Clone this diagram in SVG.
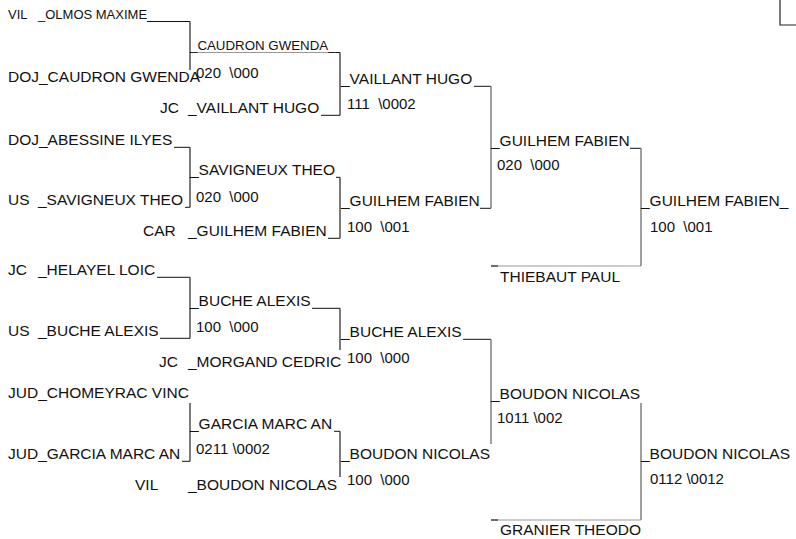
<svg xmlns="http://www.w3.org/2000/svg" width="796" height="539" viewBox="0 0 796 539">
<style>
text{font-family:"Liberation Sans",Arial,Helvetica,sans-serif;fill:#111;}
.n{font-size:15.5px;}
.s{font-size:13px;}
.sc{font-size:15px;white-space:pre;}
.h{stroke:#111;stroke-width:1;fill:none;}
.v1{stroke:#222;stroke-width:1.2;fill:none;}
.v2{stroke:#777;stroke-width:1.4;fill:none;}
.g{stroke:#999;stroke-width:1;fill:none;}
</style>
<rect width="796" height="539" fill="#fff"/>
<g id="connectors">
  <!-- round 1 trailing lines -->
  <line class="h" x1="147" y1="21.5" x2="190" y2="21.5"/>
  <line class="h" x1="174" y1="147.3" x2="190" y2="147.3"/>
  <line class="h" x1="185" y1="207.3" x2="190" y2="207.3"/>
  <line class="h" x1="157" y1="277.3" x2="190" y2="277.3"/>
  <line class="h" x1="160" y1="338.3" x2="190" y2="338.3"/>
  <line class="h" x1="182" y1="461.3" x2="190" y2="461.3"/>
  <!-- byes into round 2 verticals -->
  <line class="h" x1="321" y1="115.3" x2="340" y2="115.3"/>
  <line class="h" x1="328" y1="238.3" x2="340" y2="238.3"/>
  <!-- round 2 trailing -->
  <line class="g" x1="190" y1="52.5" x2="340" y2="52.5"/>
  <line class="h" x1="336" y1="52.5" x2="340" y2="52.5"/>
  <line class="h" x1="336" y1="177.3" x2="340" y2="177.3"/>
  <line class="h" x1="312" y1="308.3" x2="340" y2="308.3"/>
  <line class="h" x1="334" y1="431.3" x2="340" y2="431.3"/>
  <!-- round 3 trailing -->
  <line class="h" x1="474" y1="86.3" x2="491" y2="86.3"/>
  <line class="h" x1="480" y1="208.3" x2="491" y2="208.3"/>
  <line class="h" x1="463" y1="339.3" x2="491" y2="339.3"/>
  <!-- round 4 trailing -->
  <line class="h" x1="630" y1="148.3" x2="641" y2="148.3"/>
  <!-- opponents lines -->
  <line class="g" x1="491" y1="266" x2="641" y2="266"/>
  <line class="h" x1="491" y1="266" x2="498" y2="266"/>
  <line class="g" x1="491" y1="520" x2="641" y2="520"/>
  <line class="h" x1="491" y1="520" x2="498" y2="520"/>
  <!-- verticals -->
  <line class="v1" x1="190" y1="21.5" x2="190" y2="70"/>
  <line class="v1" x1="190" y1="147.3" x2="190" y2="207.3"/>
  <line class="v1" x1="190" y1="277.3" x2="190" y2="338.3"/>
  <line class="v1" x1="190" y1="403" x2="190" y2="461.3"/>
  <line class="v1" x1="340" y1="52.5" x2="340" y2="115.3"/>
  <line class="v1" x1="340" y1="177.3" x2="340" y2="238.3"/>
  <line class="v1" x1="340" y1="308.3" x2="340" y2="350"/>
  <line class="v1" x1="340" y1="431.3" x2="340" y2="477"/>
  <line class="v2" x1="491" y1="86.3" x2="491" y2="208.3"/>
  <line class="v2" x1="491" y1="339.3" x2="491" y2="444"/>
  <line class="v2" x1="641" y1="148.3" x2="641" y2="266"/>
  <line class="v2" x1="641" y1="403" x2="641" y2="520"/>
  <polyline class="v1" points="780,0 780,25 796,25"/>
</g>
<g id="olmos"><text class="s" x="8" y="19">VIL</text><text class="s" x="38" y="19">_OLMOS MAXIME</text></g>
<g id="caudron-r1"><text class="n" x="8" y="81.5">DOJ_CAUDRON GWENDA</text></g>
<g id="caudron-r2"><text x="190" y="50" style="font-size:13.3px">_CAUDRON GWENDA_</text><text class="sc" x="196" y="77.5">020  \000</text></g>
<g id="vaillant-r1"><text class="n" x="160" y="112.5">JC</text><text class="n" x="188" y="112.5">_VAILLANT HUGO</text></g>
<g id="vaillant-r3"><text class="n" x="341" y="83.5">_VAILLANT HUGO</text><text class="sc" x="347" y="108.5">111  \0002</text></g>
<g id="abessine"><text class="n" x="8" y="144.5">DOJ_ABESSINE ILYES</text></g>
<g id="savigneux-r1"><text class="n" x="8" y="204.5">US</text><text class="n" x="38" y="204.5">_SAVIGNEUX THEO</text></g>
<g id="savigneux-r2"><text class="n" x="190" y="174.5">_SAVIGNEUX THEO</text><text class="sc" x="196" y="201.5">020  \000</text></g>
<g id="guilhem-r1"><text class="n" x="143" y="235.5">CAR</text><text class="n" x="188" y="235.5">_GUILHEM FABIEN</text></g>
<g id="guilhem-r3"><text class="n" x="341" y="205.5">_GUILHEM FABIEN</text><text class="sc" x="347" y="231.5">100  \001</text></g>
<g id="guilhem-r4"><text class="n" x="491" y="145.5">_GUILHEM FABIEN</text><text class="sc" x="497" y="169.5">020  \000</text></g>
<g id="guilhem-r5"><text class="n" x="641" y="205.5">_GUILHEM FABIEN_</text><text class="sc" x="650" y="231.5">100  \001</text></g>
<g id="thiebaut"><text class="n" x="500" y="281.5">THIEBAUT PAUL</text></g>
<g id="helayel"><text class="n" x="8" y="274.5">JC</text><text class="n" x="38" y="274.5">_HELAYEL LOIC</text></g>
<g id="buche-r1"><text class="n" x="8" y="335.5">US</text><text class="n" x="38" y="335.5">_BUCHE ALEXIS</text></g>
<g id="buche-r2"><text class="n" x="190" y="305.5">_BUCHE ALEXIS</text><text class="sc" x="196" y="331.5">100  \000</text></g>
<g id="buche-r3"><text class="n" x="341" y="336.5">_BUCHE ALEXIS</text><text class="sc" x="347" y="362.5">100  \000</text></g>
<g id="morgand"><text class="n" x="159" y="366.5">JC</text><text class="n" x="188" y="366.5">_MORGAND CEDRIC</text></g>
<g id="chomeyrac"><text class="n" x="8" y="397.5">JUD_CHOMEYRAC VINC</text></g>
<g id="garcia-r1"><text class="n" x="8" y="458.5">JUD_GARCIA MARC AN</text></g>
<g id="garcia-r2"><text class="n" x="190" y="428.5">_GARCIA MARC AN</text><text class="sc" x="196" y="453.5">0211 \0002</text></g>
<g id="boudon-r1"><text class="n" x="135" y="489.5">VIL</text><text class="n" x="188" y="489.5">_BOUDON NICOLAS</text></g>
<g id="boudon-r3"><text class="n" x="341" y="458.5">_BOUDON NICOLAS</text><text class="sc" x="347" y="484.5">100  \000</text></g>
<g id="boudon-r4"><text class="n" x="491" y="398.5">_BOUDON NICOLAS</text><text class="sc" x="497" y="422.5">1011 \002</text></g>
<g id="boudon-r5"><text class="n" x="641" y="458.5">_BOUDON NICOLAS</text><text class="sc" x="650" y="483.5">0112 \0012</text></g>
<g id="granier"><text class="n" x="500" y="534.5">GRANIER THEODO</text></g>
</svg>
